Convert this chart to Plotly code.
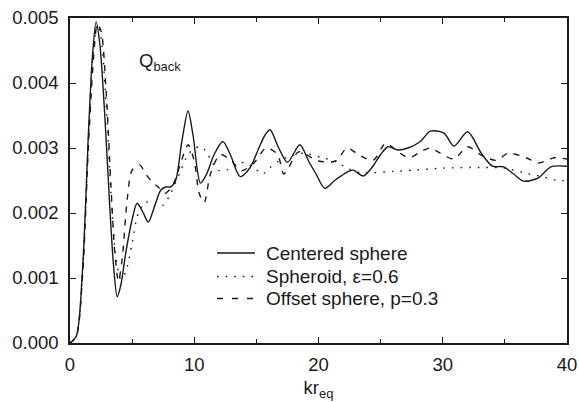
import plotly.graph_objects as go

# Centered sphere (solid)
x_centered = [0, 0.5, 1.0, 1.5, 1.8, 2.1, 2.4, 2.8, 3.2, 3.5, 3.8, 4.1, 4.5, 5.0, 5.4, 5.9, 6.3, 6.8,
              7.3, 7.7, 8.1, 8.5, 9.0, 9.5, 9.9, 10.5, 11.0, 11.6, 12.3, 12.9, 13.7, 14.5,
              15.2, 15.7, 16.1, 16.8, 17.5, 18.5, 19.2, 19.8, 20.5, 21.3, 22.3, 22.8, 23.6, 24.3,
              25.0, 25.6, 26.4, 27.2, 28.2, 29.0, 30.1, 30.9, 32.0, 33.1, 34.0, 34.9, 35.7, 36.5, 37.7,
              38.7, 40]
y_centered = [0, 0.0001, 0.0011, 0.0033, 0.0044, 0.00494, 0.0046, 0.0035, 0.0021, 0.0012, 0.00071,
              0.0009, 0.0014, 0.0019, 0.00215, 0.0020, 0.00186, 0.0021, 0.00235, 0.0024, 0.0024, 0.0025,
              0.0031, 0.00357, 0.0032, 0.00246, 0.0026, 0.0029, 0.0031, 0.0029, 0.00256,
              0.0027, 0.0030, 0.0032, 0.00328, 0.0030, 0.00278, 0.00305, 0.0028, 0.0026, 0.00238,
              0.0025, 0.00263, 0.00266, 0.00257, 0.0027, 0.0029, 0.00302, 0.00297, 0.0030, 0.0031,
              0.00326, 0.00323, 0.00303, 0.00325, 0.00292, 0.00272, 0.00271, 0.0026, 0.00249, 0.00254,
              0.00271, 0.00272]

# Spheroid, eps=0.6 (dotted)
x_spheroid = [0, 0.5, 1.0, 1.5, 1.8, 2.2, 2.5, 2.9, 3.3, 3.7, 4.1, 4.5, 5.0, 5.5, 6.1, 6.8, 7.5, 8.1,
              8.8, 9.5, 10.1, 10.6, 11.1, 11.9, 12.6, 13.4, 14.1, 14.8, 15.5, 16.1, 16.8, 17.5, 18.8,
              20.3, 21.3, 22.4, 23.4, 24.4, 26.0, 27.7, 30.0, 33.0, 35.0, 36.5, 38.0, 39.3, 40]
y_spheroid = [0, 0.0001, 0.0011, 0.0032, 0.0043, 0.0049, 0.0047, 0.0037, 0.0023, 0.0013, 0.00098,
              0.0011, 0.00154, 0.0020, 0.00217, 0.0021, 0.00212, 0.0023, 0.0026, 0.0029, 0.0030,
              0.00302, 0.0029, 0.00266, 0.00266, 0.00277, 0.00277, 0.0027, 0.0026, 0.0027, 0.0028,
              0.00286, 0.00292, 0.00285, 0.0028, 0.00268, 0.00262, 0.00262, 0.00264, 0.00266,
              0.00269, 0.0027, 0.00269, 0.00262, 0.00256, 0.0025, 0.0025]

# Offset sphere, p=0.3 (dashed)
x_offset = [0, 0.5, 1.0, 1.5, 1.9, 2.2, 2.5, 2.9, 3.3, 3.6, 3.9, 4.2, 4.6, 5.0, 5.6, 6.1, 6.6, 7.1,
            7.6, 8.2, 8.8, 9.5, 10.0, 10.4, 10.8, 11.3, 12.1, 13.0, 13.8, 14.8, 15.8, 16.7,
            17.2, 17.6, 18.4, 20.0, 21.4, 22.3, 23.2, 24.4, 25.4, 26.4, 27.3, 28.2, 29.0, 29.8,
            30.9, 32.0, 33.1, 34.3, 35.3, 36.7, 37.7, 39.0, 40]
y_offset = [0, 0.0001, 0.0010, 0.0031, 0.0044, 0.0049, 0.0048, 0.0039, 0.0024, 0.0014, 0.00095,
            0.0013, 0.0022, 0.00266, 0.00274, 0.0026, 0.00248, 0.0024, 0.0023, 0.0024, 0.0027, 0.00305,
            0.0028, 0.0023, 0.00216, 0.0026, 0.0029, 0.0028, 0.00265, 0.00277, 0.0030, 0.0029,
            0.0026, 0.0027, 0.00294, 0.0028, 0.0028, 0.0030, 0.0029, 0.00281,
            0.00307, 0.00294, 0.00285, 0.00294, 0.0030, 0.00292, 0.00283, 0.00302, 0.00289, 0.00281,
            0.00292, 0.00285, 0.00277, 0.00285, 0.00283]

names = ["Centered sphere", "Spheroid, \u03b5=0.6", "Offset sphere, p=0.3"]
dashes = ["solid", "1.6px,7px", "6px,7px"]
x_ticks = [0, 10, 20, 30, 40]
y_ticks = [0, 0.001, 0.002, 0.003, 0.004, 0.005]
y_ticklabels = ["0.000", "0.001", "0.002", "0.003", "0.004", "0.005"]

FONT = "Liberation Sans, Arial, sans-serif"
INK = "#1a1a1a"

W, H = 579, 402
ML, MR, MT, MB = 70, 12, 18, 59
PW, PH = W - ML - MR, H - MT - MB

fig = go.Figure()
for xs, ys, nm, dash in zip([x_centered, x_spheroid, x_offset],
                            [y_centered, y_spheroid, y_offset], names, dashes):
    fig.add_trace(go.Scatter(x=xs, y=ys, name=nm, mode="lines", showlegend=False,
                             line=dict(color=INK, width=1.4, dash=dash, shape="spline", smoothing=0.8)))

# legend drawn in paper coordinates (pixel positions inside the plot area)
def px_x(p):
    return (p - ML) / PW

def px_y(p):
    return 1 - (p - MT) / PH

legend_rows = [253, 276.5, 298.5]
legend_dashes = ["solid", "1.6px,7px", "6px,9px"]
for nm, dash, ry in zip(names, legend_dashes, legend_rows):
    fig.add_shape(type="line", xref="paper", yref="paper", x0=px_x(217), x1=px_x(255),
                  y0=px_y(ry), y1=px_y(ry), line=dict(color=INK, width=1.4, dash=dash))
    fig.add_annotation(x=px_x(264), y=px_y(ry), xref="paper", yref="paper", text=nm,
                       showarrow=False, xanchor="left", yanchor="middle",
                       font=dict(family=FONT, size=19, color=INK))

fig.add_annotation(x=5.4, y=0.00433, xref="x", yref="y", text="Q<sub>back</sub>",
                   showarrow=False, xanchor="left", yanchor="middle",
                   font=dict(family=FONT, size=18.5, color=INK))

fig.update_layout(
    width=W, height=H, autosize=False,
    margin=dict(l=ML, r=MR, t=MT, b=MB, autoexpand=False),
    paper_bgcolor="white", plot_bgcolor="white",
    font=dict(family=FONT, size=18.5, color=INK),
    showlegend=False,
    xaxis=dict(range=[0, 40], tickvals=x_ticks, ticks="inside", ticklen=6, tickwidth=1,
               tickcolor=INK, showline=True, linecolor=INK, linewidth=1.5, mirror="allticks",
               showgrid=False, zeroline=False, automargin=False, ticklabelstandoff=4,
               minor=dict(dtick=5, tick0=0, ticks="inside", ticklen=4, tickcolor=INK),
               title=dict(text="kr<sub>eq</sub>", standoff=7, font=dict(size=18.5))),
    yaxis=dict(range=[0, 0.005], tickvals=y_ticks, ticktext=y_ticklabels, ticks="inside",
               ticklen=6, tickwidth=1, tickcolor=INK, showline=True, linecolor=INK, linewidth=1.5,
               mirror="allticks", showgrid=False, zeroline=False, automargin=False,
               ticklabelstandoff=6),
)

fig.write_html("out.html")
